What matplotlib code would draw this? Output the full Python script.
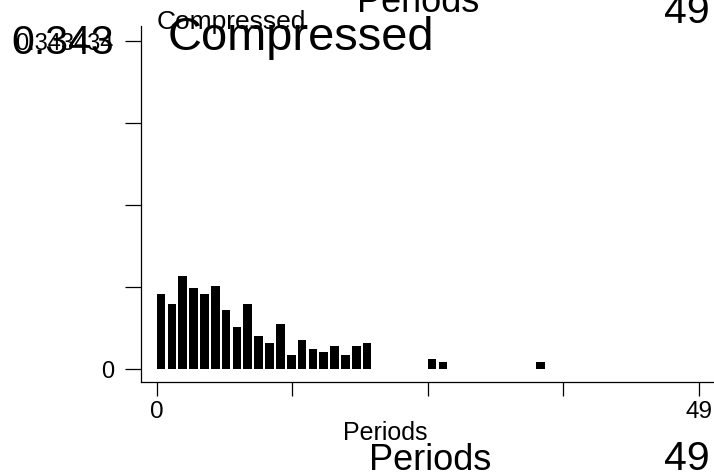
import matplotlib
matplotlib.use("Agg")
import matplotlib.pyplot as plt

plt.rcParams['font.family'] = ['Liberation Sans', 'DejaVu Sans']

# share of observations by period (periods with no bar are left out)
periods = [0, 1, 2, 3, 4, 5, 6, 7, 8, 9, 10, 11, 12, 13, 14, 15, 16, 17, 18, 19, 25, 26, 35]
shares = [0.0781, 0.0680, 0.0976, 0.0844, 0.0781, 0.0871, 0.0617, 0.0436, 0.0680, 0.0348,
          0.0269, 0.0471, 0.0143, 0.0306, 0.0209, 0.0178, 0.0241, 0.0143, 0.0241, 0.0269,
          0.0105, 0.0076, 0.0076]
y_max = 0.343434
x_ticks = [0, 12.5, 25, 37.5, 50]
x_ticklabels = ["0", "", "", "", "49"]
y_ticklabels = ["0", "", "", "", "0.343434"]

W, H = 714, 477
fig = plt.figure(figsize=(W / 100, H / 100), dpi=100)
ax = fig.add_axes([141 / W, 1 - 383 / H, (713 - 141) / W, (383 - 27) / H])

ax.bar(periods, shares, width=0.8, align='edge', color='black', linewidth=0)

ax.set_xlim(-1.45, 51.3)
ax.set_ylim(-0.0136, 0.3587)
ax.set_xticks(x_ticks)
ax.set_xticklabels(x_ticklabels)
ax.set_yticks([y_max * i / 4 for i in range(5)])
ax.set_yticklabels(y_ticklabels)

for s in ['top', 'right']:
    ax.spines[s].set_visible(False)
for s in ['left', 'bottom']:
    ax.spines[s].set_linewidth(0.9)
ax.tick_params(axis='y', length=11.5, width=0.9, pad=8, labelsize=17)
ax.tick_params(axis='x', length=10, width=0.9, pad=3, labelsize=17.5)

def px_text(x, y, s, size, ha='left', va='baseline'):
    fig.text(x / W, 1 - y / H, s, fontsize=size, ha=ha, va=va)

# overlapping duplicate labels, as in the source image
px_text(114, 54, "0.343", 29.5, ha='right')
px_text(157, 29, "Compressed", 19)
px_text(168, 50, "Compressed", 33.8)
px_text(357, 12, "Periods", 26)
px_text(710, 23, "49", 29.5, ha='right')
px_text(385, 440, "Periods", 18, ha='center')
px_text(430, 470, "Periods", 26, ha='center')
px_text(710, 470, "49", 29.5, ha='right')

fig.savefig("out.png", dpi=100)
